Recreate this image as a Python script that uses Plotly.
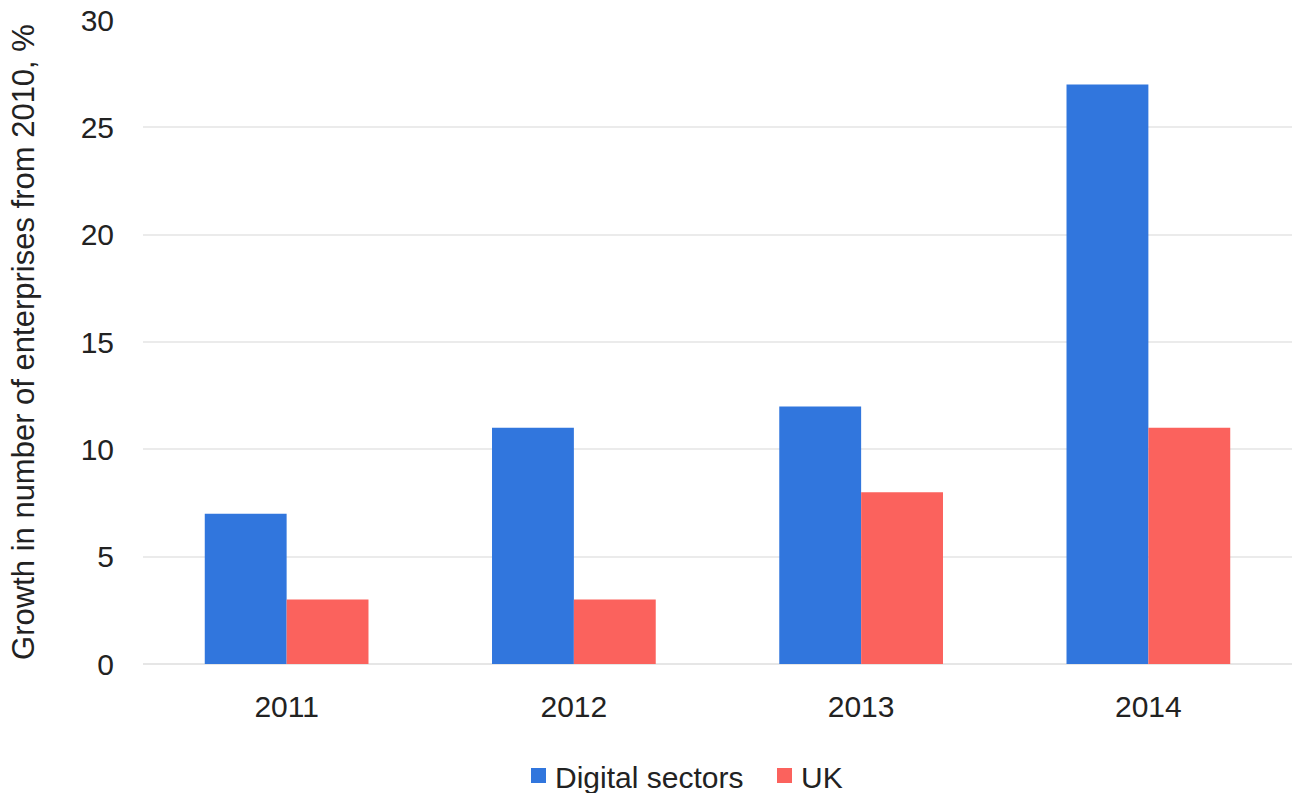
import plotly.graph_objects as go

# Growth in number of enterprises relative to 2010
years = ["2011", "2012", "2013", "2014"]
digital_sectors = [7, 11, 12, 27]
uk = [3, 3, 8, 11]

y_ticks = [0, 5, 10, 15, 20, 25, 30]

series_names = ["Digital sectors", "UK"]
BLUE = "#3176DD"
RED = "#FB625D"
FONT = "Liberation Sans, Arial, sans-serif"
TEXT = "#222222"

W, H = 1292, 793
M_L, M_R, M_T, M_B = 143, 0, 20, 129
PW, PH = W - M_L - M_R, H - M_T - M_B


def px_x(px):
    """Pixel column -> paper x."""
    return (px - M_L) / PW


def px_y(py):
    """Pixel row -> paper y."""
    return (H - M_B - py) / PH


fig = go.Figure()
fig.add_trace(go.Bar(name=series_names[0], x=years, y=digital_sectors,
                     marker=dict(color=BLUE, line=dict(width=0)),
                     showlegend=False, hoverinfo="x+y"))
fig.add_trace(go.Bar(name=series_names[1], x=years, y=uk,
                     marker=dict(color=RED, line=dict(width=0)),
                     showlegend=False, hoverinfo="x+y"))

# Legend below the plot: square swatch followed by the series name
legend_items = [(series_names[0], BLUE, 531), (series_names[1], RED, 777)]
shapes, annotations = [], []
for name, color, left in legend_items:
    shapes.append(dict(type="rect", xref="paper", yref="paper",
                       x0=px_x(left), x1=px_x(left + 15),
                       y0=px_y(783), y1=px_y(768),
                       fillcolor=color, line=dict(width=0)))
    annotations.append(dict(xref="paper", yref="paper",
                            x=px_x(left + 22), y=px_y(777),
                            xanchor="left", yanchor="middle",
                            text=name, showarrow=False,
                            font=dict(family=FONT, size=30, color=TEXT)))

fig.update_layout(
    width=W, height=H,
    margin=dict(l=M_L, r=M_R, t=M_T, b=M_B),
    paper_bgcolor="white", plot_bgcolor="white",
    barmode="group", bargap=0.43, bargroupgap=0,
    font=dict(family=FONT, size=30, color=TEXT),
    showlegend=False,
    shapes=shapes, annotations=annotations,
    xaxis=dict(showgrid=False, showline=False, zeroline=False,
               ticks="", ticklabelstandoff=22,
               tickfont=dict(family=FONT, size=30, color=TEXT)),
    yaxis=dict(range=[0, 30], tickvals=y_ticks, showgrid=True,
               gridcolor="#EBEBEB", gridwidth=2,
               zeroline=True, zerolinecolor="#E6E6E6", zerolinewidth=2,
               showline=False, ticks="", ticklabelstandoff=28,
               tickfont=dict(family=FONT, size=30, color=TEXT),
               title=dict(text="Growth in number of enterprises from 2010, %",
                          font=dict(family=FONT, size=31, color=TEXT),
                          standoff=36)),
)

fig.write_html("out.html")
